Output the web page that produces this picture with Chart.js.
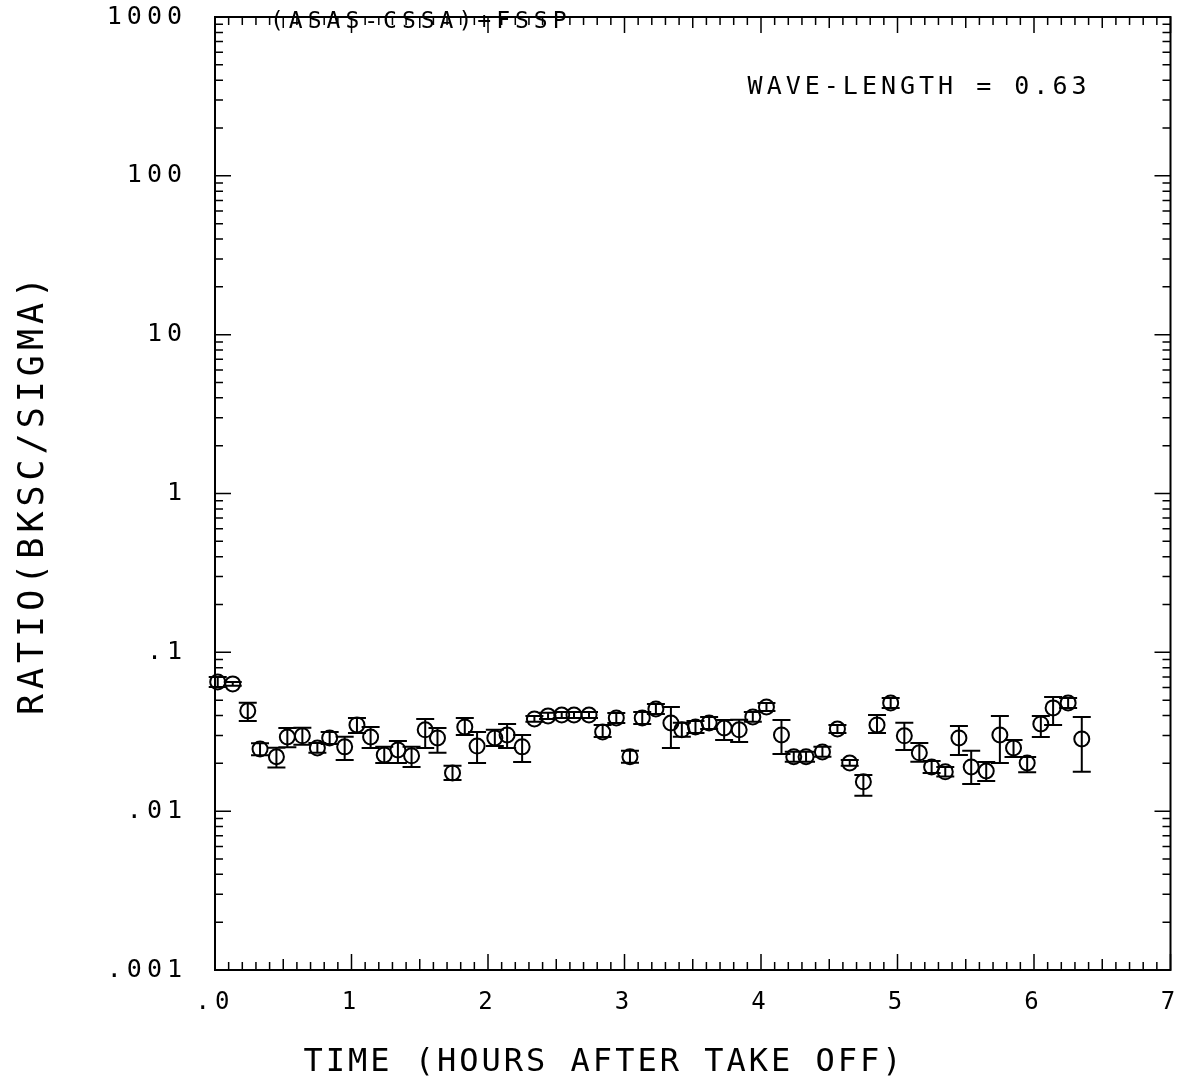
<!DOCTYPE html>
<html>
<head>
<meta charset="utf-8">
<script src="https://cdn.jsdelivr.net/npm/chart.js@4"></script>
<style>
  body { margin: 0; background: #fff; }
  canvas { display: block; }
</style>
</head>
<body>
<canvas id="ratioChart" width="1180" height="1086"></canvas>
<script>
// hours after take off
const hours = [0.02, 0.13, 0.24, 0.33, 0.45, 0.53, 0.64, 0.75, 0.84, 0.95,
  1.04, 1.14, 1.24, 1.34, 1.44, 1.54, 1.63, 1.74, 1.83, 1.92,
  2.05, 2.14, 2.25, 2.34, 2.44, 2.54, 2.63, 2.74, 2.84, 2.94,
  3.04, 3.13, 3.23, 3.34, 3.42, 3.52, 3.62, 3.73, 3.84, 3.94,
  4.04, 4.15, 4.24, 4.33, 4.45, 4.56, 4.65, 4.75, 4.85, 4.95,
  5.05, 5.16, 5.25, 5.35, 5.45, 5.54, 5.65, 5.75, 5.85, 5.95,
  6.05, 6.14, 6.25, 6.35];

const ratio = [0.0651, 0.0633, 0.0428, 0.0246, 0.0220, 0.0293, 0.0298, 0.0250, 0.0289, 0.0254,
  0.0349, 0.0293, 0.0226, 0.0243, 0.0223, 0.0325, 0.0289, 0.0174, 0.0339, 0.0257,
  0.0289, 0.0302, 0.0254, 0.0381, 0.0398, 0.0403, 0.0403, 0.0403, 0.0315, 0.0386,
  0.0220, 0.0386, 0.0440, 0.0359, 0.0325, 0.0339, 0.0359, 0.0334, 0.0325, 0.0392,
  0.0453, 0.0302, 0.0220, 0.0220, 0.0236, 0.0329, 0.0201, 0.0153, 0.0349, 0.0480,
  0.0298, 0.0233, 0.0190, 0.0177, 0.0289, 0.0190, 0.0179, 0.0302, 0.0250, 0.0201,
  0.0354, 0.0447, 0.0480, 0.0285];

// error bar ends
const ratioHigh = [0.0700, 0.0651, 0.0481, 0.0268, 0.0251, 0.0334, 0.0335, 0.0269, 0.0315, 0.0294,
  0.0386, 0.0339, 0.0254, 0.0277, 0.0254, 0.0381, 0.0334, 0.0193, 0.0386, 0.0315,
  0.0325, 0.0354, 0.0302, 0.0398, 0.0416, 0.0421, 0.0421, 0.0421, 0.0349, 0.0415,
  0.0240, 0.0421, 0.0473, 0.0453, 0.0360, 0.0370, 0.0392, 0.0375, 0.0376, 0.0421,
  0.0480, 0.0375, 0.0237, 0.0237, 0.0254, 0.0349, 0.0210, 0.0169, 0.0403, 0.0516,
  0.0360, 0.0269, 0.0207, 0.0190, 0.0344, 0.0240, 0.0204, 0.0398, 0.0281, 0.0219,
  0.0398, 0.0524, 0.0516, 0.0392];

const ratioLow = [0.0606, 0.0615, 0.0370, 0.0225, 0.0188, 0.0253, 0.0262, 0.0233, 0.0265, 0.0210,
  0.0311, 0.0250, 0.0201, 0.0201, 0.0190, 0.0250, 0.0233, 0.0157, 0.0302, 0.0201,
  0.0257, 0.0250, 0.0204, 0.0365, 0.0381, 0.0386, 0.0386, 0.0386, 0.0293, 0.0359,
  0.0202, 0.0354, 0.0409, 0.0250, 0.0294, 0.0311, 0.0329, 0.0281, 0.0273, 0.0365,
  0.0427, 0.0229, 0.0205, 0.0205, 0.0220, 0.0310, 0.0193, 0.0125, 0.0311, 0.0447,
  0.0243, 0.0205, 0.0174, 0.0165, 0.0226, 0.0148, 0.0155, 0.0201, 0.0219, 0.0176,
  0.0293, 0.0349, 0.0447, 0.0177];

const xTickValues = [0, 1, 2, 3, 4, 5, 6, 7];
const xTickLabels = [".0", "1", "2", "3", "4", "5", "6", "7"];
const yTickValues = [0.001, 0.01, 0.1, 1, 10, 100, 1000];
const yTickLabels = [".001", ".01", ".1", "1", "10", "100", "1000"];

const caseText = "(ASAS-CSSA)+FSSP";
const waveText = "WAVE-LENGTH = 0.63";
const xTitle = "TIME (HOURS AFTER TAKE OFF)";
const yTitle = "RATIO(BKSC/SIGMA)";

const FONT = "'DejaVu Sans Mono', 'Liberation Mono', monospace";

// frame with inward ticks on all four sides, plus the text notes
const framePlugin = {
    id: "frame",
    beforeDraw(chart) {
        chart.ctx.letterSpacing = "5px";
    },
    afterDraw(chart) {
        const { ctx, chartArea: a, scales: { x, y } } = chart;
        ctx.save();
        ctx.strokeStyle = "#000";
        ctx.lineWidth = 2;
        ctx.strokeRect(a.left, a.top, a.right - a.left, a.bottom - a.top);

        ctx.lineWidth = 1.5;
        ctx.beginPath();
        for (let i = 0; i <= 70; i++) {
            const px = x.getPixelForValue(i / 10);
            const len = i % 10 === 0 ? 16 : (i % 5 === 0 ? 11 : 8);
            ctx.moveTo(px, a.bottom); ctx.lineTo(px, a.bottom - len);
            ctx.moveTo(px, a.top); ctx.lineTo(px, a.top + len);
        }
        for (let e = -3; e < 3; e++) {
            for (let m = 1; m < 10; m++) {
                const py = y.getPixelForValue(m * Math.pow(10, e));
                const len = m === 1 ? 16 : 8;
                ctx.moveTo(a.left, py); ctx.lineTo(a.left + len, py);
                ctx.moveTo(a.right, py); ctx.lineTo(a.right - len, py);
            }
        }
        ctx.stroke();

        ctx.fillStyle = "#000";
        ctx.textBaseline = "middle";
        ctx.font = `23px ${FONT}`;
        ctx.letterSpacing = "5px";
        ctx.textAlign = "left";
        ctx.fillText(caseText, a.left + 55, a.top + 5);
        ctx.font = `25px ${FONT}`;
        ctx.letterSpacing = "4px";
        ctx.textAlign = "right";
        ctx.fillText(waveText, a.right - 80, a.top + 70);

        // x title is centred on the page, not on the plot box
        ctx.font = `32px ${FONT}`;
        ctx.letterSpacing = "3px";
        ctx.textAlign = "center";
        ctx.fillText(xTitle, 604, 1063);
        ctx.restore();
    }
};

const errorBarPlugin = {
    id: "errorBars",
    afterDatasetsDraw(chart) {
        const { ctx, scales: { x, y } } = chart;
        ctx.save();
        ctx.strokeStyle = "#000";
        ctx.lineWidth = 2;
        ctx.beginPath();
        hours.forEach((h, i) => {
            const px = x.getPixelForValue(h);
            const top = y.getPixelForValue(ratioHigh[i]);
            const bot = y.getPixelForValue(ratioLow[i]);
            ctx.moveTo(px, top); ctx.lineTo(px, bot);
            ctx.moveTo(px - 9, top); ctx.lineTo(px + 9, top);
            ctx.moveTo(px - 9, bot); ctx.lineTo(px + 9, bot);
        });
        ctx.stroke();
        ctx.restore();
    }
};

new Chart(document.getElementById("ratioChart"), {
    type: "scatter",
    data: {
        datasets: [{
            data: hours.map((h, i) => ({ x: h, y: ratio[i] })),
            pointRadius: 7.5,
            pointBorderWidth: 2,
            borderColor: "#000",
            backgroundColor: "rgba(0,0,0,0)",
            clip: false
        }]
    },
    options: {
        responsive: false,
        animation: false,
        devicePixelRatio: 1,
        layout: { padding: { top: 17, right: 8, left: 0, bottom: 0 } },
        plugins: { legend: { display: false }, tooltip: { enabled: false } },
        scales: {
            x: {
                type: "linear",
                min: 0,
                max: 7,
                grid: { display: false },
                border: { display: false },
                afterBuildTicks: s => { s.ticks = xTickValues.map(v => ({ value: v })); },
                afterFit: s => {
                    s.height = 116;
                    s.paddingLeft = 0;
                    s.paddingRight = 0;
                },
                ticks: {
                    color: "#000",
                    padding: 10,
                    maxRotation: 0,
                    font: { family: FONT, size: 24 },
                    callback: v => xTickLabels[xTickValues.indexOf(v)]
                }
            },
            y: {
                type: "logarithmic",
                min: 0.001,
                max: 1000,
                grid: { display: false },
                border: { display: false },
                afterBuildTicks: s => { s.ticks = yTickValues.map(v => ({ value: v })); },
                afterFit: s => {
                    s.width = 215;
                    s.paddingTop = 0;
                    s.paddingBottom = 0;
                },
                ticks: {
                    color: "#000",
                    padding: 20,
                    font: { family: FONT, size: 25 },
                    callback: v => yTickLabels[yTickValues.indexOf(v)]
                },
                title: {
                    display: true,
                    text: yTitle,
                    color: "#000",
                    font: { family: FONT, size: 35 },
                    padding: { top: 13, bottom: 0 }
                }
            }
        }
    },
    plugins: [errorBarPlugin, framePlugin]
});
</script>
</body>
</html>
